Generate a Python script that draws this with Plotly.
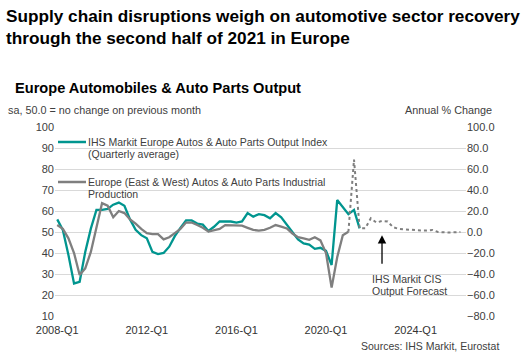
import plotly.graph_objects as go

# ---------------- data ----------------
quarters = [f"{2008 + q // 4}-Q{q % 4 + 1}" for q in range(73)]  # 2008-Q1 .. 2026-Q1

ihs_output_index = [56, 51, 39, 25.5, 26.3, 40.5, 51.6, 60.5, 60.5, 61, 63, 64, 62.5, 56,
                    51, 48.5, 47, 40.5, 39.5, 40, 43, 48, 52, 55.5, 55.5, 54, 53.5, 50.5,
                    52.5, 55, 55, 55, 54.5, 55, 59, 57.3, 58.5, 58, 56.5, 59, 57, 53.5,
                    50, 46.5, 44.6, 44, 42, 42.5, 41, 34.3, 65.2, 62, 58.5, 60.5, 51.7]

production_yoy = [6.6, 3, -6, -20, -41, -34.6, -19, 2.8, 27.4, 25, 14, 20, 18, 12, 8, 3,
                  -1, -2, -2, -7, -5, -1, 3, 9, 9, 6.6, 4, 0.4, 1.4, 3, 6.6, 6.6, 6.6, 6,
                  4, 2, 1.4, 2, 4, 6.6, 5.2, 3.4, -1.4, -5, -6, -7.4, -5, -8, -20, -53,
                  -24, -3, 0.2]

forecast_start = 52
forecast_yoy = [0.2, 69, 3.5, 3.5, 13, 9, 10.5, 10, 4.5, 3, 2.5, 2, 2, 1.5, 1.5, 2, 0,
                -0.5, -0.5, -0.3, 0]

tick_labels = ["2008-Q1", "2012-Q1", "2016-Q1", "2020-Q1", "2024-Q1"]

TEAL = "#00958f"
GREY = "#7f7f7f"
FONT = "Arial, Liberation Sans, sans-serif"

W, H = 522, 360
L, R, T, B = 55, 56, 127, 44


def px(x):
    return (x - L) / (W - L - R)


def py(y):
    return (H - B - y) / (H - T - B)


fig = go.Figure()
fig.add_trace(go.Scatter(x=quarters[:len(ihs_output_index)], y=ihs_output_index,
                         mode="lines", line=dict(color=TEAL, width=2.3),
                         name="IHS Markit Europe Autos & Auto Parts Output Index", yaxis="y"))
fig.add_trace(go.Scatter(x=quarters[:len(production_yoy)], y=production_yoy,
                         mode="lines", line=dict(color=GREY, width=2.3),
                         name="Europe (East & West) Autos & Auto Parts Industrial Production",
                         yaxis="y2"))
fig.add_trace(go.Scatter(x=quarters[forecast_start:forecast_start + len(forecast_yoy)],
                         y=forecast_yoy, mode="lines",
                         line=dict(color=GREY, width=2, dash="dot"),
                         name="IHS Markit CIS Output Forecast", yaxis="y2"))

fig.update_layout(
    width=W, height=H,
    margin=dict(l=L, r=R, t=T, b=B),
    paper_bgcolor="white", plot_bgcolor="white",
    showlegend=False,
    font=dict(family=FONT, size=11, color="#404040"),
    xaxis=dict(type="category", categoryorder="array", categoryarray=quarters,
               range=[-0.4, 73], tickvals=tick_labels, ticktext=tick_labels,
               showgrid=False, zeroline=False, showline=False, ticks="",
               ticklabelstandoff=6,
               tickfont=dict(size=11, color="#333333")),
    yaxis=dict(range=[10, 100], dtick=10, tick0=10, showgrid=True, gridcolor="#d9d9d9",
               gridwidth=1, zeroline=False, showline=False, ticks="",
               tickfont=dict(size=11, color="#404040")),
    yaxis2=dict(range=[-80, 100], dtick=20, tick0=-80, overlaying="y", side="right",
                showgrid=False, zeroline=False, showline=False, ticks="",
                tickformat=".1f", tickfont=dict(size=11, color="#404040")),
)

ann = []


def txt(x, y, s, size, bold=False, color="#404040", xanchor="left"):
    ann.append(dict(x=px(x), y=py(y), xref="paper", yref="paper", text=f"<b>{s}</b>" if bold else s,
                    showarrow=False, xanchor=xanchor, yanchor="middle",
                    font=dict(family=FONT, size=size, color=color)))


txt(4, 16, "Supply chain disruptions weigh on automotive sector recovery", 17.2, True, "black")
txt(4, 38, "through the second half of 2021 in Europe", 17.2, True, "black")
txt(13, 88, "Europe Automobiles &amp; Auto Parts Output", 14.6, True, "black")
txt(6, 110, "sa, 50.0 = no change on previous month", 10.8, False, "#404040")
txt(403, 110, "Annual % Change", 10.8, False, "#404040")
txt(86, 142, "IHS Markit Europe Autos &amp; Auto Parts Output Index", 10.5)
txt(86, 154, "(Quarterly average)", 10.5)
txt(86, 182, "Europe (East &amp; West) Autos &amp; Auto Parts Industrial", 10.5)
txt(86, 194, "Production", 10.5)
txt(370, 279, "IHS Markit CIS", 10.5)
txt(370, 291, "Output Forecast", 10.5)
txt(501, 346, "Sources: IHS Markit, Eurostat", 10.5, xanchor="right")

# forecast arrow
ann.append(dict(x="2022-Q3", y=-3, xref="x", yref="y2", text="", showarrow=True,
                ax=0, ay=30, arrowhead=2, arrowsize=1.3, arrowwidth=1.3, arrowcolor="black"))
fig.update_layout(annotations=ann)

shapes = [
    dict(type="line", xref="paper", yref="paper", x0=px(58), x1=px(86), y0=py(142), y1=py(142),
         line=dict(color=TEAL, width=2.5)),
    dict(type="line", xref="paper", yref="paper", x0=px(58), x1=px(86), y0=py(182), y1=py(182),
         line=dict(color=GREY, width=2.5)),
]
fig.update_layout(shapes=shapes)

fig.write_html("out.html", config={"displayModeBar": False},
               post_script="document.body.style.margin='0';")
